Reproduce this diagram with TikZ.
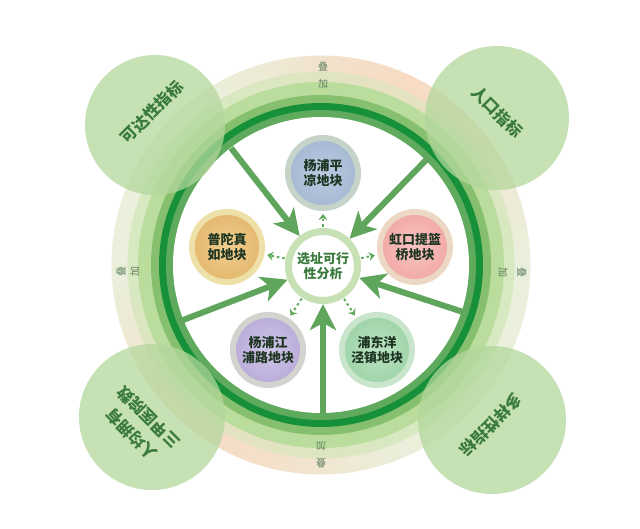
\documentclass[tikz,border=0pt]{standalone}
\usepackage{fontspec}
\newfontfamily\cjk{Noto Sans CJK SC}
\usetikzlibrary{arrows.meta,calc}
\definecolor{vpale}{HTML}{EAF0DC}
\definecolor{peach}{HTML}{F8D9C2}
\definecolor{paleg}{HTML}{D6E9C0}
\definecolor{lightg}{HTML}{BADC9C}
\definecolor{midg}{HTML}{86C06E}
\definecolor{darkg}{HTML}{17903A}
\definecolor{innerg}{HTML}{5FAA5C}
\definecolor{arrowg}{HTML}{5FA55C}
\definecolor{cornerg}{HTML}{B3D79B}
\definecolor{cornertxt}{HTML}{3A7A3C}
\definecolor{ctrring}{HTML}{C8E1B4}
\definecolor{ctrtxt}{HTML}{3B7A3D}
\definecolor{sattxt}{HTML}{1E3522}
\definecolor{labtxt}{HTML}{5E7E60}
\definecolor{ypR}{HTML}{C6D3C8}\definecolor{ypI}{HTML}{BCCBE2}\definecolor{ypO}{HTML}{A3B6D1}
\definecolor{ptR}{HTML}{EDE0A8}\definecolor{ptI}{HTML}{F0CE90}\definecolor{ptO}{HTML}{E3B66A}
\definecolor{hkR}{HTML}{ECD8C4}\definecolor{hkI}{HTML}{F8C4C2}\definecolor{hkO}{HTML}{F1A6A4}
\definecolor{jpR}{HTML}{D3D3D0}\definecolor{jpI}{HTML}{D0C6E8}\definecolor{jpO}{HTML}{B8A9D8}
\definecolor{pdR}{HTML}{C9E6CC}\definecolor{pdI}{HTML}{BCE3C3}\definecolor{pdO}{HTML}{9BD2A6}
\tikzset{
  bigarrow/.style={draw=arrowg, line width=6pt, -{Stealth[length=26pt,width=26pt,inset=7pt]}},
  dasharrow/.style={draw=innerg, line width=2pt, dash pattern=on 2.5pt off 3pt,
    -{Stealth[length=6pt,width=9pt,inset=2pt]}, shorten >=3pt, shorten <=1pt},
  sat/.style n args={3}{circle, minimum size=76pt, inner sep=0pt, outer sep=0pt, fill=#1,
    path picture={\shade[inner color=#2, outer color=#3] (path picture bounding box.center) circle (32pt);},
    align=center, font=\cjk\bfseries\fontsize{13}{15}\selectfont, text=sattxt},
  cornerdisk/.style={fill=cornerg, fill opacity=0.75},
  cornertext/.style={font=\cjk\bfseries\fontsize{16}{24}\selectfont, text=cornertxt, align=center},
  lab/.style={font=\cjk\fontsize{10}{12}\selectfont, text=labtxt, inner sep=0pt},
}
\begin{document}
\begin{tikzpicture}[x=1pt,y=-1pt]
\useasboundingbox (0,0) rectangle (640,529);
\coordinate (C) at (321,265);
% outer gradient bands
\foreach \a in {0,2,...,358}{
  \pgfmathsetmacro\pa{90*max(0,cos(\a-62))^4 + 80*max(0,cos(\a-238))^4}
  \pgfmathsetmacro\pb{0.5*\pa}
  \pgfmathsetmacro\b{\a+2.4}
  \fill[peach!\pa!vpale] ($(C)+(-\a:193)$) -- ($(C)+(-\a:209.5)$) -- ($(C)+(-\b:209.5)$) -- ($(C)+(-\b:193)$) -- cycle;
  \fill[peach!\pb!paleg] ($(C)+(-\a:182.5)$) -- ($(C)+(-\a:193.5)$) -- ($(C)+(-\b:193.5)$) -- ($(C)+(-\b:182.5)$) -- cycle;
}
\fill[lightg] (C) circle (183pt);
\fill[midg] (C) circle (170pt);
\fill[darkg] (C) circle (162pt);
\fill[innerg] (C) circle (155pt);
\fill[white] (C) circle (148pt);
% corner disks
\fill[cornerdisk] (155,125) circle (70pt);
\fill[cornerdisk] (497,118) circle (72pt);
\fill[cornerdisk] (152,417) circle (73pt);
\fill[cornerdisk] (492,420) circle (74pt);
\node[cornertext, rotate=45] (kd) at (152,112) {可达性指标};
\node[cornertext, rotate=-45] (rk) at (497,112) {人口指标};
\node[cornertext, rotate=135] (rj) at (140,426) {人均拥有\\三甲医院数};
\node[cornertext, rotate=225] (dy) at (491,425) {多样性指标};
% overlay labels
\node[lab] (t1) at (323,67) {叠};
\node[lab] (t2) at (323,84) {加};
\node[lab, rotate=-90] (r1) at (522,273) {叠};
\node[lab, rotate=-90] (r2) at (503,273) {加};
\node[lab, rotate=180] (b1) at (321,463) {叠};
\node[lab, rotate=180] (b2) at (321,446) {加};
\node[lab, rotate=90] (l1) at (121,272) {叠};
\node[lab, rotate=90] (l2) at (135,272) {加};
% center
\node[circle, minimum size=69pt, inner sep=0pt, draw=ctrring, line width=7pt, fill=white,
      align=center, font=\cjk\bfseries\fontsize{13}{15}\selectfont, text=ctrtxt] (ctr) at (323,266) {选址可行\\性分析};
% satellites
\node[sat={ypR}{ypI}{ypO}] (yp) at (323,173) {杨浦平\\凉地块};
\node[sat={ptR}{ptI}{ptO}] (pt) at (227,247) {普陀真\\如地块};
\node[sat={hkR}{hkI}{hkO}] (hk) at (415,247) {虹口提篮\\桥地块};
\node[sat={jpR}{jpI}{jpO}] (jp) at (268,350) {杨浦江\\浦路地块};
\node[sat={pdR}{pdI}{pdO}] (pd) at (377,350) {浦东洋\\泾镇地块};
% big arrows
\coordinate (sUL) at (231,148);
\coordinate (sUR) at (428,158);
\coordinate (sL) at (178,322);
\coordinate (sR) at (463,312);
\coordinate (sB) at (323,414);
\foreach \s in {sUL,sUR,sL,sR,sB} \draw[bigarrow] (\s) -- (ctr);
% dashed arrows
\foreach \t in {yp,pt,hk,jp,pd} \draw[dasharrow] (ctr) -- (\t);
\end{tikzpicture}
\end{document}
